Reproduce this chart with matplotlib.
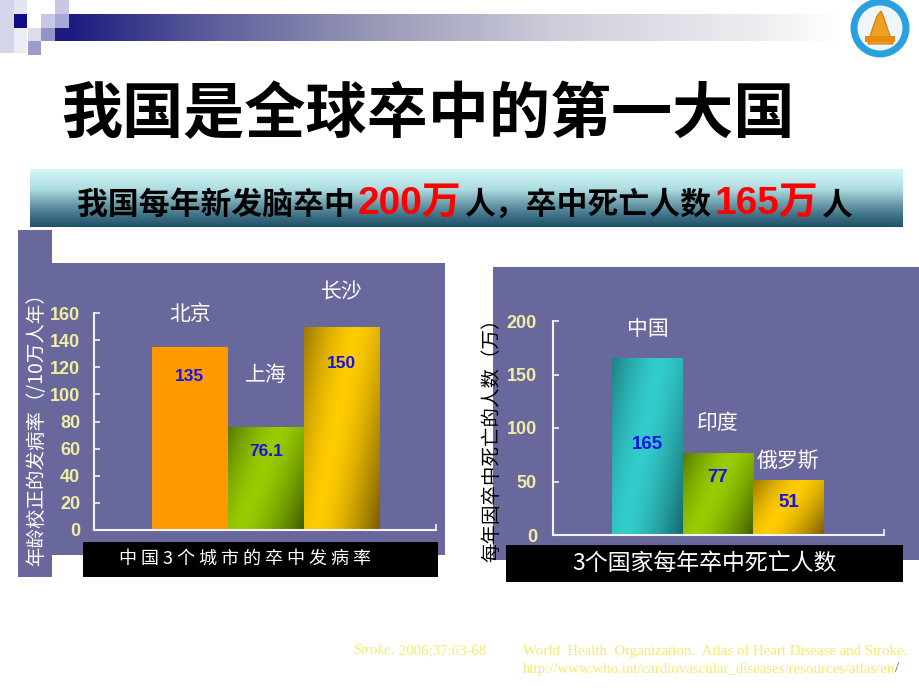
import numpy as np
import matplotlib.pyplot as plt
from matplotlib.patches import Rectangle, Circle, Polygon
from matplotlib.colors import LinearSegmentedColormap

plt.rcParams['font.family'] = ['Noto Sans CJK SC', 'DejaVu Sans']

# ---- data ----
title = '我国是全球卒中的第一大国'
headline = ['我国每年新发脑卒中', '200万', '人，卒中死亡人数', '165万', '人']
headline_red = [False, True, False, True, False]

cities = ['北京', '上海', '长沙']
incidence = [135, 76.1, 150]
left_ticks = [0, 20, 40, 60, 80, 100, 120, 140, 160]
left_ylabel = '年龄校正的发病率（/10万人年）'
left_caption = '中国3个城市的卒中发病率'

countries = ['中国', '印度', '俄罗斯']
deaths = [165, 77, 51]
right_ticks = [0, 50, 100, 150, 200]
right_ylabel = '每年因卒中死亡的人数（万）'
right_caption = '3个国家每年卒中死亡人数'

cite_journal = 'Stroke.'
cite_ref = ' 2006;37:63-68'
cite_who = 'World  Health  Organization.  Atlas of Heart Disease and Stroke.'
cite_url = 'http://www.who.int/cardiovascular_diseases/resources/atlas/en'

# ---- styles ----
W, H = 920, 690
PANEL = '#68689c'
AXIS = '#f4f4f4'
TICK_TXT = '#f2eea0'
CITE = '#f4ea70'
CITE_SIZE = 10.7
left_shades = [('#ff9900', '#ff9900'), ('#3d5c00', '#99cc00'), ('#7a5c00', '#ffcc00')]
right_shades = [('#16686c', '#33cccc'), ('#3d5c00', '#99cc00'), ('#7a5c00', '#ffcc00')]
left_name_off = [24, 37, 24.5]
left_val_off = [-21.5, -18, -26.5]
right_name_off = [21, 21, 14.5]
right_val_off = [-62, -18, -16]

fig = plt.figure(figsize=(W / 100, H / 100), dpi=100)
fig.patch.set_facecolor('white')

# background layer in pixel coordinates (y down)
bg = fig.add_axes([0, 0, 1, 1])
bg.set_zorder(-1)
bg.axis('off')
bg.set_xlim(0, W)
bg.set_ylim(H, 0)
renderer = fig.canvas.get_renderer()


def grad_image(ax, extent, stops, vertical=False, z=1):
    xl, yl = ax.get_xlim(), ax.get_ylim()
    cmap = LinearSegmentedColormap.from_list('g', stops)
    g = np.linspace(0, 1, 256)
    img = g[:, None] if vertical else g[None, :]
    ax.imshow(img, cmap=cmap, vmin=0, vmax=1, extent=extent, aspect='auto',
              zorder=z, interpolation='bilinear')
    ax.set_xlim(xl)
    ax.set_ylim(yl)


def right_edge(t):
    # pixel x of a text's right end (bg data x equals pixels)
    return t.get_window_extent(renderer).x1


# top-left squares and fading bar
squares = [(0, 0, 14, 53, '#d4d4ea'), (14, 0, 13, 14, '#e4e4f2'), (14, 14, 13, 14, '#0c0c84'),
           (14, 28, 13, 25, '#ececf6'), (28, 28, 13, 13, '#dcdcee'), (28, 41, 13, 14, '#9c9ccc'),
           (41, 14, 14, 14, '#c8c8e4'), (41, 28, 14, 13, '#9494c8'), (55, 0, 14, 14, '#c8c8e4'),
           (55, 14, 14, 14, '#a8a8d8'), (55, 28, 14, 13, '#1c1c80')]
for x, y, w, h, c in squares:
    bg.add_patch(Rectangle((x, y), w, h, fc=c, lw=0, zorder=1))
grad_image(bg, (69, 845, 41, 14),
           [(0, '#1c1c80'), (0.17, '#5a5a9a'), (0.40, '#9a9ab8'), (0.64, '#cfcfdc'),
            (0.88, '#ececf0'), (1, '#ffffff')])

# logo
bg.add_patch(Circle((880, 28), 26, fc='#eef6fc', ec='#2aa0e0', lw=5, zorder=2))
bg.add_patch(Polygon([(868, 44), (872, 30), (877, 16), (881, 11), (884, 18), (888, 30), (893, 44)],
                     fc='#f0a020', ec='#d07a10', lw=0.8, zorder=3))
bg.add_patch(Rectangle((865, 36), 30, 6, fc='#e88a10', lw=0, zorder=3))

# headline banner
grad_image(bg, (30, 903, 227, 169),
           [(0, '#d4f8f8'), (0.35, '#acdce0'), (0.6, '#6d9cab'), (0.8, '#3e7286'), (1, '#1f5068')],
           vertical=True)
x = 77
for piece, red in zip(headline, headline_red):
    if red:
        t = bg.text(x, 214, piece, fontsize=28, fontweight='bold', color='#ff0000',
                    family=['Liberation Sans', 'Noto Sans CJK SC'], va='baseline', ha='left', zorder=3)
    else:
        t = bg.text(x, 214, piece, fontsize=22.2, fontweight='bold', color='black',
                    va='baseline', ha='left', zorder=3)
    x = right_edge(t) + 3

# title
bg.text(61, 133, title, fontsize=44, fontweight='bold', color='black', va='baseline', ha='left')

# chart panels
bg.add_patch(Rectangle((18, 263), 427, 292, fc=PANEL, lw=0, zorder=1))
bg.add_patch(Rectangle((18, 230), 34, 347, fc=PANEL, lw=0, zorder=1))
bg.add_patch(Rectangle((493, 267), 427, 293, fc=PANEL, lw=0, zorder=1))
bg.add_patch(Rectangle((83, 542), 355, 35, fc='black', lw=0, zorder=2))
bg.add_patch(Rectangle((506, 545), 397, 37, fc='black', lw=0, zorder=2))

bg.text(37, 425, left_ylabel, rotation=90, color='white', fontsize=14, ha='center', va='center', zorder=3)
bg.text(492, 435, right_ylabel, rotation=90, color='black', fontsize=14, ha='center', va='center', zorder=3)
bg.text(245, 559, ' '.join(left_caption), color='white', fontsize=13, ha='center', va='center', zorder=3)
bg.text(704, 563, right_caption, color='white', fontsize=16.5, ha='center', va='center', zorder=3)

# citations
t = bg.text(354, 651, cite_journal, fontsize=CITE_SIZE, style='italic', color=CITE,
            family='Liberation Serif', va='center', ha='left')
bg.text(right_edge(t), 651, cite_ref, fontsize=CITE_SIZE, color=CITE,
        family='Liberation Serif', va='center', ha='left')
bg.text(523, 651, cite_who, fontsize=CITE_SIZE, color=CITE, family='Liberation Serif', va='center', ha='left')
t = bg.text(523, 669, cite_url, fontsize=CITE_SIZE, color=CITE, family='Liberation Serif', va='center', ha='left')
bg.text(right_edge(t), 669, '/', fontsize=CITE_SIZE, color='#4060d0',
        family='Liberation Serif', va='center', ha='left')


def shade_bars(ax, bars, shades):
    u = np.linspace(0, 1, 60)[None, :]
    v = np.linspace(1, 0, 120)[:, None]
    s = 0.65 * u + 0.35 * (1 - v)
    tone = 1 - np.clip(np.abs(s - 0.45) / 0.55, 0, 1) ** 1.5
    for bar, (dark, bright) in zip(bars, shades):
        cmap = LinearSegmentedColormap.from_list('b', [dark, bright])
        x0, w, h = bar.get_x(), bar.get_width(), bar.get_height()
        im = ax.imshow(tone, cmap=cmap, vmin=0, vmax=1, extent=(x0, x0 + w, 0, h),
                       aspect='auto', zorder=2.1, interpolation='bilinear')
        im.set_clip_path(bar)


def draw_chart(rect, names, values, ticks, xlim, shades, name_off, val_off, pad, val_size):
    ax = fig.add_axes(rect)
    ax.set_facecolor('none')
    pos = np.arange(len(names))
    bars = ax.bar(pos, values, width=1.0, color=[s[1] for s in shades], lw=0, zorder=2)
    shade_bars(ax, bars, shades)
    for p, name, v, no, vo in zip(pos, names, values, name_off, val_off):
        ax.annotate(name, (p, v), xytext=(0, no), textcoords='offset points',
                    ha='center', va='center', color='white', fontsize=15)
        ax.annotate(f'{v:g}', (p, v), xytext=(0, vo), textcoords='offset points',
                    ha='center', va='center', color='#1414e6', fontsize=val_size,
                    fontweight='bold', family='Liberation Sans', zorder=4)
    for side in ('top', 'right'):
        ax.spines[side].set_visible(False)
    for side in ('left', 'bottom'):
        ax.spines[side].set_color(AXIS)
        ax.spines[side].set_linewidth(1.5)
    ax.set_xlim(xlim)
    ax.set_ylim(ticks[0], ticks[-1])
    ax.set_yticks(ticks)
    ax.set_xticks([xlim[1]])
    ax.set_xticklabels([''])
    ax.tick_params(direction='in', length=4.5, width=1.2, color=AXIS,
                   labelcolor=TICK_TXT, labelsize=13, pad=pad)
    for lbl in ax.get_yticklabels():
        lbl.set_fontfamily('Liberation Sans')
        lbl.set_fontweight('bold')
    return ax


draw_chart([94 / W, 1 - 530 / H, 342 / W, 217 / H], cities, incidence, left_ticks,
           (-1.26, 3.24), left_shades, left_name_off, left_val_off, 10, 12.5)
draw_chart([553 / W, 1 - 535 / H, 331 / W, 214 / H], countries, deaths, right_ticks,
           (-1.34, 3.355), right_shades, right_name_off, right_val_off, 11.5, 13.5)

fig.savefig('out.png', dpi=100)
